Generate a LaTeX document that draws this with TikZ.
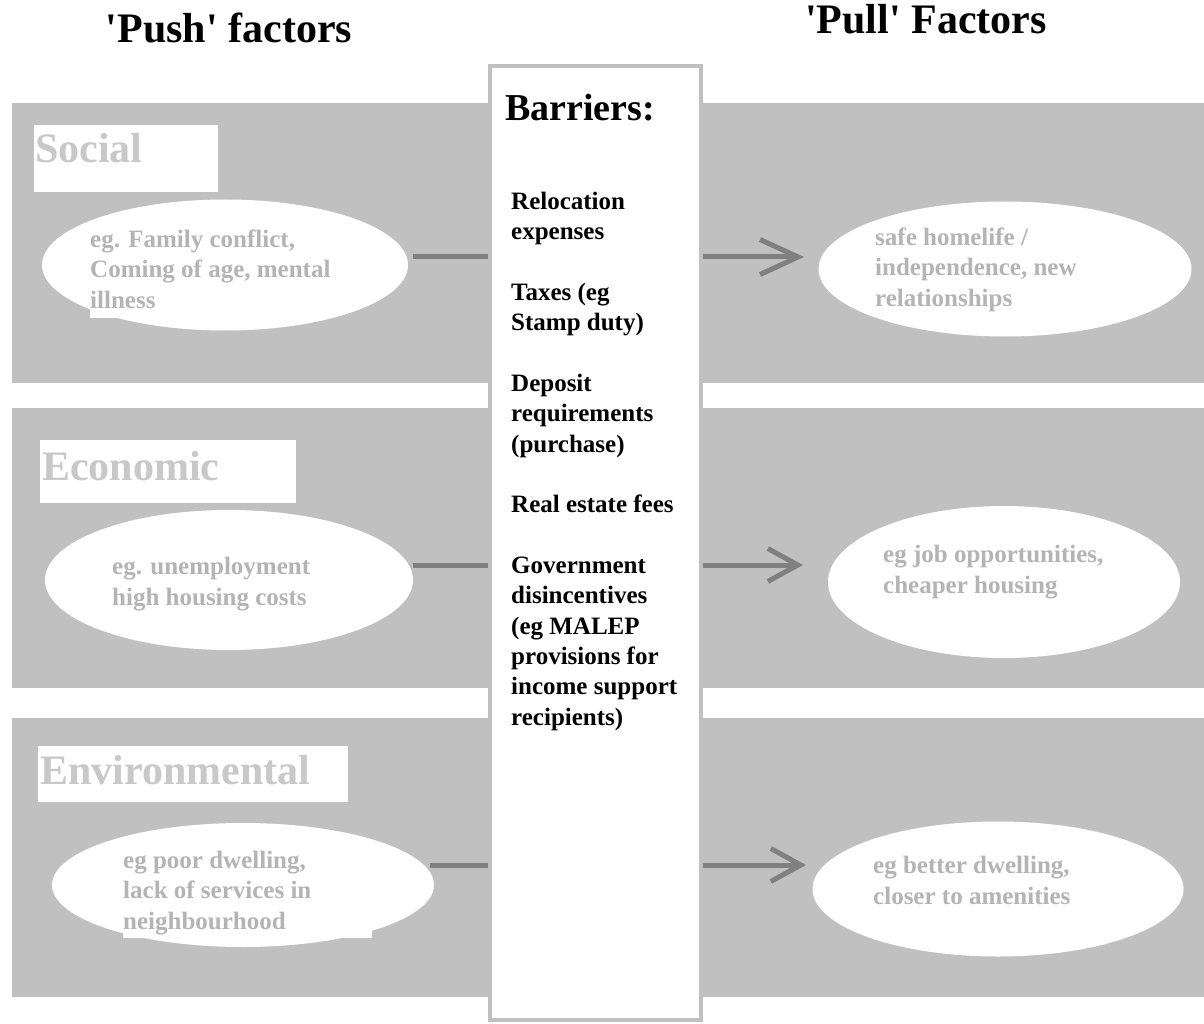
\documentclass[tikz,border=0pt]{standalone}
\usepackage{fontspec}
\newfontfamily\fnt{Liberation Serif}
\usetikzlibrary{shapes.geometric,arrows.meta}
\definecolor{band}{HTML}{C0C0C0}
\definecolor{lbl}{HTML}{C8C8C8}
\definecolor{etxt}{HTML}{B4B4B4}
\definecolor{conn}{HTML}{808080}
\begin{document}
\begin{tikzpicture}[x=1pt,y=-1pt,
  lblbox/.style={fill=white,draw=none,inner sep=0,anchor=north west},
  lbltext/.style={anchor=base west,inner sep=0,text=lbl,font=\fnt\bfseries\fontsize{42}{42}\selectfont},
  titletext/.style={anchor=base,inner sep=0,font=\fnt\bfseries\fontsize{42}{42}\selectfont},
  oval/.style={ellipse,fill=white,draw=none,inner sep=0},
  ovaltext/.style={anchor=base west,inner sep=0,align=left,text=etxt,font=\fnt\bfseries\fontsize{25}{30.33}\selectfont},
  link/.style={draw=conn,line width=5pt},
  arr/.style={link,-{Straight Barb[length=30pt,width=33pt]}},
  arrlong/.style={link,-{Straight Barb[length=38pt,width=35pt]}},
]
\useasboundingbox (0,0) rectangle (1204,1024);
% bands
\fill[band] (12,103) rectangle (1204,383);
\fill[band] (12,408) rectangle (1204,688);
\fill[band] (12,718) rectangle (1204,997);
% barrier column
\node[draw=band,line width=4pt,fill=white,minimum width=211pt,minimum height=954pt,inner sep=0] (bar) at (595.5,543) {};
% titles
\node[titletext] (push) at (229,43) {'Push' factors};
\node[titletext] (pull) at (926,34) {'Pull' Factors};
% category labels
\node[lblbox,minimum width=184pt,minimum height=67pt] (socbox) at (34,125) {};
\node[lbltext] (soc) at (35,163) {Social};
\node[lblbox,minimum width=256pt,minimum height=63pt] (ecobox) at (40,440) {};
\node[lbltext] (eco) at (42,480) {Economic};
\node[lblbox,minimum width=310pt,minimum height=56pt] (envbox) at (38,746) {};
\node[lbltext] (env) at (40,784) {Environmental};
% ellipses
\node[oval,minimum width=366pt,minimum height=131pt] (sL) at (225,265) {};
\node[oval,minimum width=368pt,minimum height=140pt] (eL) at (229,580) {};
\node[oval,minimum width=382pt,minimum height=124pt] (vL) at (243,885) {};
\node[oval,minimum width=373pt,minimum height=135pt] (sR) at (1005,269) {};
\node[oval,minimum width=352pt,minimum height=152pt] (eR) at (1004,582) {};
\node[oval,minimum width=371pt,minimum height=135pt] (vR) at (998,889) {};
\fill[white] (90,290) rectangle (168,318);
\fill[white] (123,910) rectangle (372,938);
% ellipse texts (anchored at the baseline of their last line)
\node[ovaltext] (sLt) at (90,308) {eg. Family conflict,\\Coming of age, mental\\illness};
\node[ovaltext] (eLt) at (112,605) {eg. unemployment\\high housing costs};
\node[ovaltext] (vLt) at (123,929) {eg poor dwelling,\\lack of services in\\neighbourhood};
\node[ovaltext] (sRt) at (875,306) {safe homelife /\\independence, new\\relationships};
\node[ovaltext] (eRt) at (883,593) {eg job opportunities,\\cheaper housing};
\node[ovaltext] (vRt) at (873,904) {eg better dwelling,\\closer to amenities};
% barriers text
\node[anchor=base west,inner sep=0,font=\fnt\bfseries\fontsize{38}{38}\selectfont] (bart) at (505,121) {Barriers:};
\node[anchor=base west,align=left,inner sep=0,font=\fnt\bfseries\fontsize{25}{30.33}\selectfont] (bari) at (511,725)
  {Relocation\\expenses\\[30.33pt]Taxes (eg\\Stamp duty)\\[30.33pt]Deposit\\requirements\\(purchase)\\[30.33pt]Real estate fees\\[30.33pt]Government\\disincentives\\(eg MALEP\\provisions for\\income support\\recipients)};
% connectors
\coordinate (s1) at (413,257);
\coordinate (s2) at (804,257);
\coordinate (e1) at (413,565);
\coordinate (e2) at (803,565);
\coordinate (v1) at (430,865);
\coordinate (v2) at (806,865);
\draw[link] (s1) -- (s1 -| bar.west);
\draw[arrlong] (s2 -| bar.east) -- (s2);
\draw[link] (e1) -- (e1 -| bar.west);
\draw[arr] (e2 -| bar.east) -- (e2);
\draw[link] (v1) -- (v1 -| bar.west);
\draw[arr] (v2 -| bar.east) -- (v2);
\end{tikzpicture}
\end{document}
